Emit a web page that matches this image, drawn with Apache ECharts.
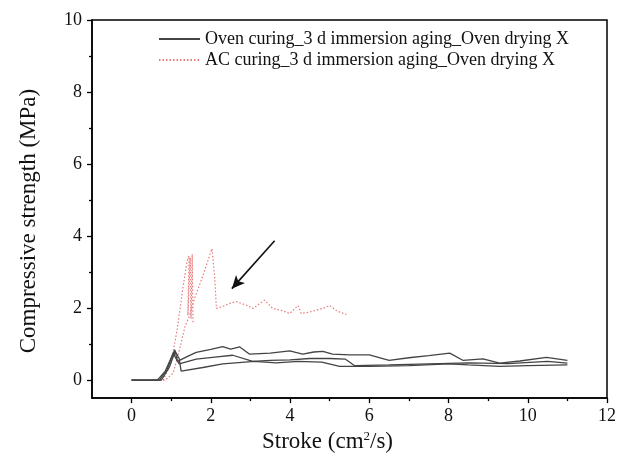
<!DOCTYPE html>
<html>
<head>
<meta charset="utf-8">
<script src="https://cdn.jsdelivr.net/npm/echarts@6/dist/echarts.min.js"></script>
<style>
  html, body { margin: 0; padding: 0; background: #fff; }
  #chart { width: 619px; height: 458px; }
</style>
</head>
<body>
<div id="chart"></div>
<script>
const ovenName = 'Oven curing_3 d immersion aging_Oven drying X'
const acName = 'AC curing_3 d immersion aging_Oven drying X'

const xTicks = [0, 2, 4, 6, 8, 10, 12]
const xMinor = [1, 3, 5, 7, 9, 11]
const yTicks = [0, 2, 4, 6, 8, 10]
const yMinor = [1, 3, 5, 7, 9]

// three oven-cured specimens (stroke, strength)
const oven1 = [[0, 0], [0.65, 0], [0.85, 0.25], [1.09, 0.84], [1.16, 0.52], [1.4, 0.65], [1.63, 0.77], [2.0, 0.85], [2.3, 0.93], [2.5, 0.86], [2.73, 0.92], [2.98, 0.72], [3.5, 0.75], [3.99, 0.81], [4.32, 0.72], [4.6, 0.78], [4.83, 0.8], [5.07, 0.72], [5.5, 0.7], [6.0, 0.7], [6.5, 0.55], [7.0, 0.62], [7.5, 0.68], [8.03, 0.75], [8.36, 0.55], [8.87, 0.59], [9.29, 0.47], [9.8, 0.53], [10.47, 0.63], [11.0, 0.55]]
const oven2 = [[0, 0], [0.7, 0], [0.9, 0.3], [1.05, 0.75], [1.12, 0.6], [1.2, 0.45], [1.63, 0.58], [2.1, 0.64], [2.55, 0.69], [3.06, 0.52], [3.5, 0.55], [4.0, 0.56], [4.5, 0.6], [5.0, 0.6], [5.4, 0.58], [5.63, 0.4], [6.5, 0.42], [7.5, 0.45], [8.5, 0.48], [9.5, 0.46], [10.5, 0.52], [11.0, 0.47]]
const oven3 = [[0, 0], [0.75, 0], [0.95, 0.35], [1.1, 0.8], [1.2, 0.6], [1.25, 0.25], [1.8, 0.35], [2.3, 0.45], [3.1, 0.52], [3.65, 0.48], [4.2, 0.52], [4.8, 0.5], [5.25, 0.38], [6.0, 0.38], [7.0, 0.4], [8.0, 0.45], [8.5, 0.42], [9.3, 0.38], [10.0, 0.4], [11.0, 0.42]]

// two AC-cured specimens
const ac1 = [[0, 0], [0.8, 0], [1.0, 0.5], [1.15, 1.4], [1.3, 2.6], [1.4, 3.3], [1.45, 3.45], [1.42, 1.8], [1.48, 3.4], [1.5, 1.7], [1.53, 3.5], [1.55, 1.6]]
const ac2 = [[0, 0], [0.85, 0], [1.05, 0.2], [1.2, 0.8], [1.35, 1.5], [1.45, 1.75], [1.6, 2.3], [1.8, 2.9], [1.95, 3.4], [2.03, 3.65], [2.1, 2.8], [2.14, 1.99], [2.31, 2.05], [2.45, 2.12], [2.64, 2.18], [2.9, 2.08], [3.06, 1.99], [3.2, 2.1], [3.36, 2.22], [3.56, 1.99], [3.8, 1.93], [3.99, 1.85], [4.2, 2.07], [4.28, 1.85], [4.45, 1.88], [4.66, 1.94], [4.85, 2.0], [5.0, 2.07], [5.2, 1.91], [5.42, 1.82]]

const arrowFrom = [3.61, 3.87]
const arrowTo = [2.53, 2.54]

const font = 'Liberation Serif'
const chart = echarts.init(document.getElementById('chart'))

const blackLine = (data) => ({
  name: ovenName,
  type: 'line',
  data: data,
  symbol: 'none',
  color: '#444',
  lineStyle: { color: '#444', width: 1.3 },
  z: 3
})
const redLine = (data) => ({
  name: acName,
  type: 'line',
  data: data,
  symbol: 'none',
  color: '#e77a7a',
  lineStyle: { color: '#e77a7a', width: 1.2, type: [1.5, 2] },
  z: 2
})

const xCommon = { type: 'value', min: -1, max: 12, gridIndex: 0, splitLine: { show: false } }
const yCommon = { type: 'value', min: -0.5, max: 10, gridIndex: 0, splitLine: { show: false } }

const series = [blackLine(oven1), blackLine(oven2), blackLine(oven3), redLine(ac1), redLine(ac2)]
series[4].markLine = {
  silent: true,
  symbol: ['none', 'arrow'],
  symbolSize: [9, 13],
  label: { show: false },
  lineStyle: { color: '#111', width: 1.6, type: 'solid' },
  data: [[{ coord: arrowFrom }, { coord: arrowTo }]]
}

chart.setOption({
  animation: false,
  backgroundColor: '#fff',
  grid: {
    left: 92, right: 11, top: 20, bottom: 58,
    show: true, borderColor: '#000', borderWidth: 1.5
  },
  legend: {
    orient: 'vertical',
    left: 153,
    top: 25,
    itemWidth: 41,
    itemHeight: 12,
    itemGap: 3,
    data: [ovenName, acName],
    itemStyle: { opacity: 0 },
    textStyle: { fontFamily: font, fontSize: 18, color: '#111' }
  },
  xAxis: [
    Object.assign({}, xCommon, {
      position: 'bottom',
      name: 'Stroke (cm{sup|2}/s)',
      nameLocation: 'middle',
      nameGap: 31,
      nameTextStyle: {
        fontFamily: font, fontSize: 23, color: '#111', padding: [0, 44, 0, 0],
        rich: { sup: { fontFamily: font, fontSize: 13, color: '#111', verticalAlign: 'top', padding: [0, 0, 10, 0] } }
      },
      axisLine: { onZero: false, lineStyle: { color: '#000', width: 1.5 } },
      axisTick: { length: 5, lineStyle: { color: '#000', width: 1.3 }, customValues: xTicks },
      axisLabel: { customValues: xTicks, margin: 9, fontFamily: font, fontSize: 18, color: '#111' }
    }),
    Object.assign({}, xCommon, {
      position: 'bottom',
      axisLine: { show: false, onZero: false },
      axisTick: { length: 3, lineStyle: { color: '#000', width: 1.3 }, customValues: xMinor },
      axisLabel: { show: false }
    })
  ],
  yAxis: [
    Object.assign({}, yCommon, {
      position: 'left',
      name: 'Compressive strength (MPa)',
      nameLocation: 'middle',
      nameGap: 52,
      nameTextStyle: { fontFamily: font, fontSize: 23, color: '#111', padding: [0, 24, 0, 0] },
      axisLine: { onZero: false, lineStyle: { color: '#000', width: 1.5 } },
      axisTick: { length: 5, lineStyle: { color: '#000', width: 1.3 }, customValues: yTicks },
      axisLabel: { customValues: yTicks, margin: 10, fontFamily: font, fontSize: 18, color: '#111' }
    }),
    Object.assign({}, yCommon, {
      position: 'left',
      axisLine: { show: false, onZero: false },
      axisTick: { length: 3, lineStyle: { color: '#000', width: 1.3 }, customValues: yMinor },
      axisLabel: { show: false }
    })
  ],
  series: series
})
</script>
</body>
</html>
